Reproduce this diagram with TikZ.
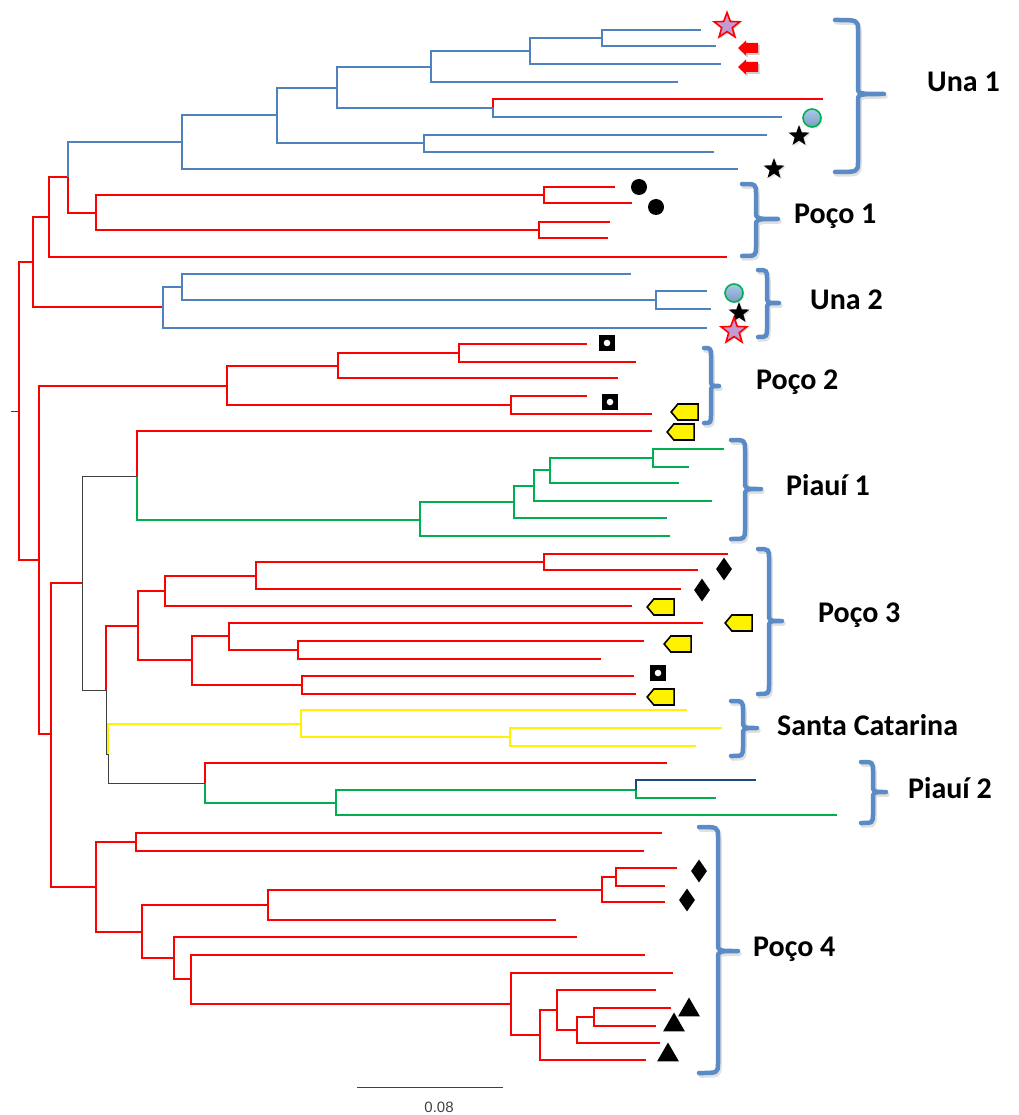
\documentclass[tikz,border=0pt]{standalone}
\usepackage{fontspec}
\setmainfont{Carlito}
\newfontfamily\scalefont{Liberation Sans}
\usepackage{tikz}
\usetikzlibrary{arrows.meta, shapes.geometric, shapes.symbols, shadows, positioning}

\definecolor{ublue}{HTML}{4F81BD}
\definecolor{tgreen}{HTML}{00B050}
\definecolor{dblue}{HTML}{1F497D}
\definecolor{braceblue}{HTML}{5B8BC7}
\definecolor{starfill}{HTML}{C49AD0}
\definecolor{circtop}{HTML}{A9C8EC}
\definecolor{circbot}{HTML}{7C9DC2}

\begin{document}
\begin{tikzpicture}[x=1pt, y=-1pt,
  br/.style={line width=1.7pt},
  redbr/.style={br, red},
  bluebr/.style={br, ublue},
  greenbr/.style={br, tgreen},
  yellowbr/.style={br, yellow},
  blackbr/.style={line width=1pt, black!75},
  dbluebr/.style={br, dblue},
  brace/.style={line width=4.5pt, braceblue, line cap=round, line join=round},
  braceshadow/.style={line width=4.5pt, black, opacity=0.12, line cap=round, line join=round},
  clade/.style={font=\fontsize{30}{35}\selectfont\bfseries, anchor=base west, inner sep=0pt},
  redstar/.style={star, star points=5, star point ratio=2.4, minimum size=27pt, inner sep=0pt, draw=red, line width=1.6pt, fill=starfill, drop shadow={opacity=0.25, shadow xshift=1.5pt, shadow yshift=-1.5pt}},
  blkstar/.style={star, star points=5, star point ratio=2.4, minimum size=22pt, inner sep=0pt, fill=black, drop shadow={opacity=0.2, shadow xshift=1.5pt, shadow yshift=-1.5pt}},
  gcirc/.style={circle, minimum size=18pt, inner sep=0pt, draw=tgreen, line width=1.6pt, top color=circtop, bottom color=circbot, drop shadow={opacity=0.2, shadow xshift=1.5pt, shadow yshift=-1.5pt}},
  bdot/.style={circle, minimum size=16pt, inner sep=0pt, fill=black},
  sqdot/.style={rectangle, minimum size=16pt, inner sep=0pt, fill=black, path picture={\fill[white] (path picture bounding box.center) circle (3.3pt);}},
  ytag/.style={signal, signal to=west, signal pointer angle=100, minimum width=27pt, minimum height=16pt, inner sep=0pt, draw=black, line width=1.6pt, fill=yellow},
  bdiam/.style={diamond, minimum width=16pt, minimum height=23pt, inner sep=0pt, fill=black},
  btri/.style={regular polygon, regular polygon sides=3, minimum size=25pt, inner sep=0pt, fill=black}]
\useasboundingbox (0,0) rectangle (1018,1115);

% Internal nodes of the tree
\coordinate (rtick) at (11,411);
\coordinate (root) at (19,411);
\coordinate (na) at (33,262);
\coordinate (nb) at (49,217);
\coordinate (nc) at (163,307);
\coordinate (nd) at (39,560);
\coordinate (ne) at (68,177);
\coordinate (nf) at (182,142);
\coordinate (ng) at (96,213);
\coordinate (nh) at (277,115);
\coordinate (ni) at (337,88);
\coordinate (nj) at (424,143);
\coordinate (nk) at (431,67);
\coordinate (nl) at (493,108);
\coordinate (nm) at (530,51);
\coordinate (nn) at (602,38);
\coordinate (no) at (544,195);
\coordinate (np) at (539,230);
\coordinate (nq) at (182,287);
\coordinate (nr) at (656,300);
\coordinate (ns) at (227,386);
\coordinate (nt) at (51,734);
\coordinate (nu) at (338,366);
\coordinate (nv) at (511,405);
\coordinate (nw) at (459,353);
\coordinate (nx) at (82,583);
\coordinate (ny) at (96,887);
\coordinate (nz) at (137,476);
\coordinate (nab) at (420,520);
\coordinate (nac) at (514,502);
\coordinate (nad) at (534,486);
\coordinate (nae) at (550,470);
\coordinate (naf) at (653,458);
\coordinate (naa) at (106,690);
\coordinate (nag) at (138,626);
\coordinate (nah) at (108,754);
\coordinate (nai) at (165,591);
\coordinate (naj) at (192,660);
\coordinate (nak) at (256,576);
\coordinate (nal) at (544,562);
\coordinate (nam) at (229,636);
\coordinate (nan) at (302,685);
\coordinate (nao) at (298,650);
\coordinate (nap) at (301,724);
\coordinate (naq) at (205,783);
\coordinate (nar) at (510,737);
\coordinate (nas) at (336,803);
\coordinate (nat) at (636,790);
\coordinate (nau) at (136,842);
\coordinate (nav) at (142,932);
\coordinate (naw) at (268,905);
\coordinate (nax) at (174,958);
\coordinate (nay) at (602,890);
\coordinate (naz) at (616,877);
\coordinate (nba) at (191,979);
\coordinate (nbb) at (511,1004);
\coordinate (nbc) at (540,1035);
\coordinate (nbd) at (557,1010);
\coordinate (nbe) at (577,1030);
\coordinate (nbf) at (594,1017);

% Leaves, top to bottom
\foreach \i/\x/\y in {1/701/30, 2/716/46, 3/721/64, 4/678/82, 5/823/99, 6/782/117,
  7/767/135, 8/714/152, 9/738/169, 10/615/187, 11/632/203, 12/610/222, 13/608/238,
  14/727/257, 15/631/274, 16/707/291, 17/711/309, 18/707/328, 19/587/344, 20/636/362,
  21/618/378, 22/587/396, 23/652/414, 24/652/431, 25/724/449, 26/689/467, 27/679/483,
  28/712/501, 29/667/518, 30/670/536, 31/728/554, 32/698/570, 33/681/589, 34/632/606,
  35/703/623, 36/644/641, 37/601/659, 38/634/676, 39/636/694, 40/687/710, 41/722/728,
  42/696/746, 43/667/763, 44/756/780, 45/716/798, 46/837/815, 47/662/833, 48/644/851,
  49/677/868, 50/665/886, 51/665/902, 52/556/920, 53/577/937, 54/645/955, 55/673/973,
  56/656/990, 57/671/1008, 58/656/1026, 59/660/1043, 60/646/1060}
  \coordinate (l\i) at (\x,\y);

% Branches
\draw[blackbr] (rtick) -- (root);
\foreach \p/\c in {root/na, root/nd, na/nb, na/nc, nb/ne, nb/l14, ne/ng, ng/no, ng/np,
  no/l10, no/l11, np/l12, np/l13, nl/l5, nd/ns, nd/nt, ns/nu, ns/nv, nu/nw, nu/l21,
  nw/l19, nw/l20, nv/l22, nv/l23, nt/nx, nt/ny, nz/l24, naa/nag, nag/nai, nag/naj,
  nai/nak, nai/l34, nak/nal, nak/l33, nal/l31, nal/l32, naj/nam, naj/nan, nam/l35,
  nam/nao, nao/l36, nao/l37, nan/l38, nan/l39, naq/l43, ny/nau, ny/nav, nau/l47,
  nau/l48, nav/naw, nav/nax, naw/nay, naw/l52, nay/naz, nay/l51, naz/l49, naz/l50,
  nax/l53, nax/nba, nba/l54, nba/nbb, nbb/l55, nbb/nbc, nbc/nbd, nbc/l60, nbd/l56,
  nbd/nbe, nbe/nbf, nbe/l59, nbf/l57, nbf/l58}
  \draw[redbr] (\p) |- (\c);
\foreach \p/\c in {ne/nf, nf/nh, nf/l9, nh/ni, nh/nj, ni/nk, ni/nl, nk/nm, nk/l4,
  nm/nn, nm/l3, nn/l1, nn/l2, nl/l6, nj/l7, nj/l8, nc/nq, nc/l18, nq/l15, nq/nr,
  nr/l16, nr/l17}
  \draw[bluebr] (\p) |- (\c);
\foreach \p/\c in {nz/nab, nab/nac, nab/l30, nac/nad, nac/l29, nad/nae, nad/l28,
  nae/naf, nae/l27, naf/l25, naf/l26, naq/nas, nas/nat, nas/l46, nat/l45}
  \draw[greenbr] (\p) |- (\c);
\foreach \p/\c in {nah/nap, nap/l40, nap/nar, nar/l41, nar/l42}
  \draw[yellowbr] (\p) |- (\c);
\foreach \p/\c in {nx/nz, nx/naa, naa/nah, nah/naq}
  \draw[blackbr] (\p) |- (\c);
\draw[dbluebr] (nat) |- (l44);

% Braces
\foreach \xa/\xb/\xc/\ya/\ym/\yb in {835/858/884/20/94/172, 742/756/778/184/219/256,
  758/767/779/270/303/337, 704/711/719/348/386/423, 731/745/761/440/489/539,
  758/769/782/549/621/694, 731/743/757/701/728/756, 861/873/886/762/792/823,
  699/718/738/827/951/1073}
{
  \draw[braceshadow, shift={(1.5,2.5)}] (\xa,\ya) .. controls (\xb,\ya) .. (\xb,\ya+10) -- (\xb,\ym-7)
    .. controls (\xb,\ym) .. (\xc,\ym) .. controls (\xb,\ym) .. (\xb,\ym+7) -- (\xb,\yb-10)
    .. controls (\xb,\yb) .. (\xa,\yb);
  \draw[brace] (\xa,\ya) .. controls (\xb,\ya) .. (\xb,\ya+10) -- (\xb,\ym-7)
    .. controls (\xb,\ym) .. (\xc,\ym) .. controls (\xb,\ym) .. (\xb,\ym+7) -- (\xb,\yb-10)
    .. controls (\xb,\yb) .. (\xa,\yb);
}

% Clade labels
\node[clade] (una1) at (927,92) {Una 1};
\node[clade] (poco1) at (794,223) {Poço 1};
\node[clade] (una2) at (810,309) {Una 2};
\node[clade] (poco2) at (756,389) {Poço 2};
\node[clade] (piaui1) at (786,495) {Piauí 1};
\node[clade] (poco3) at (818,622) {Poço 3};
\node[clade] (santacat) at (777,735) {Santa Catarina};
\node[clade] (piaui2) at (908,798) {Piauí 2};
\node[clade] (poco4) at (753,956) {Poço 4};

% Markers
\node[redstar] (rs1) at (727,26) {};
\coordinate (ra1) at (748,48);
\coordinate (ra2) at (748,67);
\foreach \a in {ra1, ra2} {
  \fill[black, opacity=0.2] (\a) ++(-8.5,2) -- ++(8,-7.5) -- ++(0,2.5) -- ++(12,0) -- ++(0,10) -- ++(-12,0) -- ++(0,2.5) -- cycle;
  \fill[red] (\a) ++(-10,0) -- ++(8,-7.5) -- ++(0,2.5) -- ++(12,0) -- ++(0,10) -- ++(-12,0) -- ++(0,2.5) -- cycle;
}
\node[gcirc] (gc1) at (812,118) {};
\node[blkstar] (bs1) at (799,136) {};
\node[blkstar] (bs2) at (774,169) {};
\node[bdot] (bd1) at (639,187) {};
\node[bdot] (bd2) at (656,207) {};
\node[gcirc] (gc2) at (734,293) {};
\node[blkstar] (bs3) at (739,313) {};
\node[redstar] (rs2) at (734,331) {};
\node[sqdot] (sq1) at (607,343) {};
\node[sqdot] (sq2) at (610,402) {};
\node[ytag] (yt1) at (688,412) {};
\node[ytag] (yt2) at (684,432) {};
\node[bdiam] (dm1) at (724,569) {};
\node[bdiam] (dm2) at (702,590) {};
\node[ytag] (yt3) at (664,607) {};
\node[ytag] (yt4) at (742,623) {};
\node[ytag] (yt5) at (681,644) {};
\node[sqdot] (sq3) at (658,673) {};
\node[ytag] (yt6) at (664,697) {};
\node[bdiam] (dm3) at (699,871) {};
\node[bdiam] (dm4) at (687,900) {};
\node[btri] (tr1) at (689,1010) {};
\node[btri] (tr2) at (674,1025) {};
\node[btri] (tr3) at (668,1055) {};

% Scale bar
\coordinate (sb0) at (357,1087);
\coordinate (sb1) at (503,1087);
\draw[line width=1pt, black!75] (sb0) -- (sb1);
\node[font=\scalefont\fontsize{15}{18}\selectfont, text=black!75] (sblabel) at (439,1107) {0.08};
\end{tikzpicture}
\end{document}
